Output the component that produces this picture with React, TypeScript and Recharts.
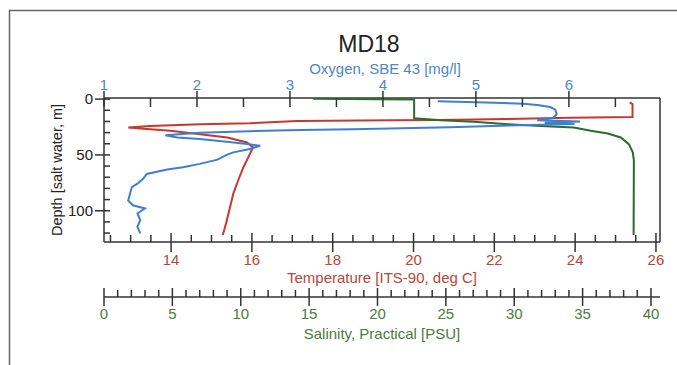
import React from 'react';
import { ComposedChart, Scatter, XAxis, YAxis } from 'recharts';

// ---- data (depth in m) ----
const tempDepth = [3, 4.4, 16, 16.6, 17.8, 18.7, 18.9, 19.6, 21.6, 22.5, 24, 25.5, 26.8, 28.4, 31.4, 34.4, 38.8, 43.3, 44.7, 52.2, 61, 72.9, 84.7, 99.6, 111.4, 121.8];
const tempValues = [25.35, 25.42, 25.42, 23.87, 22.31, 20.65, 19.49, 17.12, 15.95, 14.72, 13.48, 12.94, 13.4, 13.98, 14.72, 15.39, 15.88, 16.03, 16.01, 15.91, 15.79, 15.66, 15.54, 15.44, 15.36, 15.28];

const oxyDepth = [1.8, 3.3, 4.2, 5.3, 7.1, 9.2, 13.3, 16.9, 18.9, 20, 21.1, 22.2, 24, 25.3, 26.9, 27.6, 28.7, 30.2, 32.3, 34.4, 35.8, 38.2, 40.3, 41.8, 44.7, 47.7, 50, 54.2, 58, 61, 63.1, 67, 71.4, 75.8, 78.8, 84.7, 90.7, 95.1, 98, 102.5, 108.4, 114.4, 120.3];
const oxyValues = [4.59, 5.2, 5.51, 5.66, 5.8, 5.85, 5.87, 5.83, 5.66, 6.12, 5.74, 6.06, 5.18, 4.72, 3.68, 3.11, 2.57, 2.03, 1.66, 1.79, 2.03, 2.32, 2.54, 2.68, 2.57, 2.39, 2.32, 2.22, 2.03, 1.85, 1.68, 1.46, 1.42, 1.36, 1.3, 1.28, 1.26, 1.31, 1.44, 1.36, 1.39, 1.36, 1.39];

const salDepth = [-0.4, 0.4, 17.2, 17.8, 18.9, 20.2, 22.5, 24, 25.5, 28.4, 30.8, 34.4, 40.3, 47.7, 55.1, 121.8];
const salValues = [15.3, 22.68, 22.68, 23.4, 24.63, 27.05, 29.53, 31.94, 34.36, 35.6, 36.84, 37.79, 38.38, 38.67, 38.75, 38.73];

const oxyTicks = [1, 1.5, 2, 2.5, 3, 3.5, 4, 4.5, 5, 5.5, 6, 6.5];
const tempTicks = [12.5, 13, 13.5, 14, 14.5, 15, 15.5, 16, 16.5, 17, 17.5, 18, 18.5, 19, 19.5, 20, 20.5, 21, 21.5, 22, 22.5, 23, 23.5, 24, 24.5, 25, 25.5, 26];
const salTicks = [0, 1, 2, 3, 4, 5, 6, 7, 8, 9, 10, 11, 12, 13, 14, 15, 16, 17, 18, 19, 20, 21, 22, 23, 24, 25, 26, 27, 28, 29, 30, 31, 32, 33, 34, 35, 36, 37, 38, 39, 40];
const depthTicks = [0, 10, 20, 30, 40, 50, 60, 70, 80, 90, 100, 110, 120];

const tempData = tempDepth.map((d, i) => ({ d, t: tempValues[i] }));
const oxyData = oxyDepth.map((d, i) => ({ d, o: oxyValues[i] }));
const salData = salDepth.map((d, i) => ({ d, s: salValues[i] }));

const oxyDomain: [number, number] = [1, 6.98];
const tempDomain: [number, number] = [12.34, 26.1];
const salDomain: [number, number] = [0, 40.66];
const depthDomain: [number, number] = [-1, 128];
const rDomain: [number, number] = [0, 1];

const AXIS = '#333';
const RED = '#c8372d';
const BLUE = '#3f7fcf';
const GREEN = '#2d6a2d';
const RED_T = '#b8453a';
const BLUE_T = '#4f86c6';
const GREEN_T = '#4e7a3a';
const FONT = '"Liberation Sans", Arial, sans-serif';

const axisLineStyle = { stroke: AXIS, strokeWidth: 1.5 };
const chartMargin = { top: 68, right: 16, bottom: 38, left: 44 };
const redLine = { stroke: RED, strokeWidth: 2 };
const greenLine = { stroke: GREEN, strokeWidth: 2 };
const blueLine = { stroke: BLUE, strokeWidth: 2 };

const TopTick = (props: any) => {
  const { x, y, payload } = props;
  const v = payload.value;
  const major = Number.isInteger(v);
  return (
    <g>
      <line x1={x} x2={x} y1={major ? y - 7 : y} y2={y + 9} stroke={AXIS} strokeWidth={1.5} />
      {major && (
        <text x={x} y={y - 8} textAnchor="middle" fill={BLUE_T} fontSize={15} fontFamily={FONT}>
          {v}
        </text>
      )}
    </g>
  );
};

const TempTick = (props: any) => {
  const { x, y, payload } = props;
  const v = payload.value;
  const major = v % 2 === 0;
  return (
    <g>
      <line x1={x} x2={x} y1={major ? y - 9 : y - 7} y2={major ? y + 10 : y} stroke={AXIS} strokeWidth={1.5} />
      {major && (
        <text x={x} y={y + 23} textAnchor="middle" fill={RED_T} fontSize={15} fontFamily={FONT}>
          {v}
        </text>
      )}
    </g>
  );
};

const SalTick = (props: any) => {
  const { x, y, payload } = props;
  const v = payload.value;
  const major = v % 5 === 0;
  return (
    <g>
      <line x1={x} x2={x} y1={major ? y - 9 : y - 7} y2={major ? y + 9 : y} stroke={AXIS} strokeWidth={1.5} />
      {major && (
        <text x={x} y={y + 22} textAnchor="middle" fill={GREEN_T} fontSize={15} fontFamily={FONT}>
          {v}
        </text>
      )}
    </g>
  );
};

const DepthTick = (props: any) => {
  const { x, y, payload } = props;
  const v = payload.value;
  const major = v % 50 === 0;
  return (
    <g>
      <line x1={major ? x - 9 : x} x2={x + 6} y1={y} y2={y} stroke={AXIS} strokeWidth={1.5} />
      {major && (
        <text x={x - 11} y={y + 5} textAnchor="end" fill="#222" fontSize={15} fontFamily={FONT}>
          {v}
        </text>
      )}
    </g>
  );
};

const NoShape = () => <g />;

export default function App() {
  return (
    <div style={{ position: 'absolute', left: 0, top: 0, width: 677, height: 365, background: '#fff' }}>
      <ComposedChart width={677} height={365} margin={chartMargin}>
        <XAxis
          xAxisId="a_oxy"
          dataKey="o"
          type="number"
          orientation="top"
          domain={oxyDomain}
          allowDataOverflow
          ticks={oxyTicks}
          interval={0}
          height={30}
          tickSize={0}
          tickMargin={0}
          tickLine={false}
          tick={TopTick}
          axisLine={axisLineStyle}
        />
        <XAxis
          xAxisId="b_temp"
          dataKey="t"
          type="number"
          orientation="bottom"
          domain={tempDomain}
          allowDataOverflow
          ticks={tempTicks}
          interval={0}
          height={55}
          tickSize={0}
          tickMargin={0}
          tickLine={false}
          tick={TempTick}
          axisLine={axisLineStyle}
        />
        <XAxis
          xAxisId="c_sal"
          dataKey="s"
          type="number"
          orientation="bottom"
          domain={salDomain}
          allowDataOverflow
          ticks={salTicks}
          interval={0}
          height={30}
          tickSize={0}
          tickMargin={0}
          tickLine={false}
          tick={SalTick}
          axisLine={axisLineStyle}
        />
        <YAxis
          yAxisId="d"
          dataKey="d"
          type="number"
          reversed
          domain={depthDomain}
          allowDataOverflow
          ticks={depthTicks}
          interval={0}
          width={60}
          tickSize={0}
          tickMargin={0}
          tickLine={false}
          tick={DepthTick}
          axisLine={axisLineStyle}
        />
        <YAxis
          yAxisId="r"
          type="number"
          orientation="right"
          domain={rDomain}
          width={1}
          tick={false}
          tickLine={false}
          axisLine={axisLineStyle}
        />
        <Scatter data={tempData} xAxisId="b_temp" yAxisId="d" line={redLine} shape={NoShape} isAnimationActive={false} />
        <Scatter data={salData} xAxisId="c_sal" yAxisId="d" line={greenLine} shape={NoShape} isAnimationActive={false} />
        <Scatter data={oxyData} xAxisId="a_oxy" yAxisId="d" line={blueLine} shape={NoShape} isAnimationActive={false} />
      </ComposedChart>
      <svg
        width={677}
        height={365}
        style={{ position: 'absolute', left: 0, top: 0, pointerEvents: 'none' }}
        fontFamily={FONT}
      >
        <rect x={9.5} y={10.5} width={700} height={400} fill="none" stroke="#666" strokeWidth={1.5} />
        <text x={369} y={52} textAnchor="middle" fontSize={23} fill="#222">MD18</text>
        <text x={385} y={74} textAnchor="middle" fontSize={15} fill={BLUE_T}>Oxygen, SBE 43 [mg/l]</text>
        <text x={382} y={283} textAnchor="middle" fontSize={15} fill={RED_T}>Temperature [ITS-90, deg C]</text>
        <text x={382} y={339} textAnchor="middle" fontSize={15} fill={GREEN_T}>Salinity, Practical [PSU]</text>
        <text
          x={0}
          y={0}
          transform="translate(62 170) rotate(-90)"
          textAnchor="middle"
          fontSize={14.5}
          fill="#222"
        >
          Depth [salt water, m]
        </text>
      </svg>
    </div>
  );
}
